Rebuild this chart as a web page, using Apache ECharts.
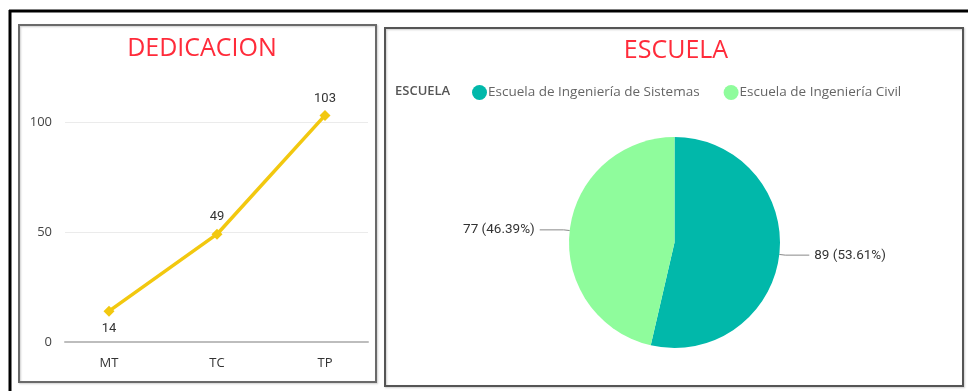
<!DOCTYPE html>
<html>
<head>
<meta charset="utf-8">
<title>DEDICACION / ESCUELA</title>
<script src="https://cdn.jsdelivr.net/npm/echarts@6/dist/echarts.min.js"></script>
<style>
  html, body { margin: 0; padding: 0; background: #ffffff; }
  #chart { width: 968px; height: 391px; }
</style>
</head>
<body>
<div id="chart"></div>
<script>
// Dedication types and headcount per type
const dedicacionCategorias = ['MT', 'TC', 'TP'];
const dedicacionValores = [14, 49, 103];
const dedicacionTicks = [0, 50, 100];

// Schools and student count per school
const escuelaNombres = ['Escuela de Ingeniería de Sistemas', 'Escuela de Ingeniería Civil'];
const escuelaValores = [89, 77];

const FONT = '"Open Sans", "Noto Sans", sans-serif';
const LABEL_FONT = 'Roboto, "Noto Sans", sans-serif';
const RED = '#ff2b3a';

const chart = echarts.init(document.getElementById('chart'), null, { renderer: 'canvas' });

// The lowest value gets its label underneath, the others above
const lineData = dedicacionValores.map((v, i) =>
  i === 0 ? { value: v, label: { position: 'bottom', distance: 6 } } : v
);

const option = {
  backgroundColor: '#ffffff',
  animation: false,
  title: [
    {
      text: 'DEDICACION', left: 197, top: 31, textAlign: 'center',
      textStyle: { color: RED, fontSize: 25, fontWeight: 'normal', fontFamily: FONT }
    },
    {
      text: 'ESCUELA', left: 671, top: 33, textAlign: 'center',
      textStyle: { color: RED, fontSize: 25, fontWeight: 'normal', fontFamily: FONT }
    },
    {
      text: 'ESCUELA', left: 390, top: 80,
      textStyle: { color: '#555555', fontSize: 13, fontWeight: 600, fontFamily: FONT }
    }
  ],
  legend: {
    data: escuelaNombres,
    left: 467, top: 80,
    icon: 'circle', itemWidth: 15, itemHeight: 15, itemGap: 24,
    textStyle: { color: '#666666', fontSize: 13.5, fontFamily: FONT, padding: [0, 0, 0, -4] }
  },
  grid: [
    // axis frame: gridlines and baseline
    { left: 65, right: 600, top: 122, bottom: 49 },
    // category placement for the line
    { left: 55, right: 589, top: 122, bottom: 49 }
  ],
  xAxis: [
    {
      gridIndex: 0, type: 'category', data: dedicacionCategorias,
      axisLine: { show: true, lineStyle: { color: '#bdbdbd', width: 2 } },
      axisTick: { show: false }, axisLabel: { show: false }
    },
    {
      gridIndex: 1, type: 'category', data: dedicacionCategorias,
      axisLine: { show: false }, axisTick: { show: false },
      axisLabel: { color: '#333333', fontSize: 13, fontFamily: FONT, margin: 15 }
    }
  ],
  yAxis: [
    {
      gridIndex: 0, type: 'value',
      min: dedicacionTicks[0], max: dedicacionTicks[dedicacionTicks.length - 1], interval: 50,
      axisLine: { show: false }, axisTick: { show: false },
      axisLabel: { color: '#444444', fontSize: 13, fontFamily: FONT, margin: 13 },
      splitLine: { lineStyle: { color: '#ebebeb', width: 1 } }
    },
    {
      gridIndex: 1, type: 'value',
      min: dedicacionTicks[0], max: dedicacionTicks[dedicacionTicks.length - 1],
      show: false, splitLine: { show: false }
    }
  ],
  series: [
    {
      name: 'DEDICACION', type: 'line', xAxisIndex: 1, yAxisIndex: 1,
      data: lineData, clip: false,
      symbol: 'diamond', symbolSize: 11,
      lineStyle: { color: '#f2c80f', width: 3.5 },
      itemStyle: { color: '#f2c80f' },
      label: {
        show: true, position: 'top', distance: 5,
        color: '#333333', fontSize: 13, fontFamily: LABEL_FONT
      }
    },
    {
      name: 'ESCUELA', type: 'pie',
      center: [674.5, 242.5], radius: 105.5,
      startAngle: 90, clockwise: true,
      data: escuelaNombres.map((n, i) => ({ name: n, value: escuelaValores[i] })),
      color: ['#01b8aa', '#8ffc9c'],
      itemStyle: { borderWidth: 0 },
      label: {
        show: true, position: 'outside', formatter: '{c} ({d}%)',
        color: '#333333', fontSize: 13.5, fontFamily: LABEL_FONT
      },
      labelLine: { show: true, length: 6, length2: 24, lineStyle: { color: '#888888', width: 1 } }
    }
  ],
  graphic: [
    // outer frame
    { type: 'line', shape: { x1: 9, y1: 11, x2: 968, y2: 11 }, style: { stroke: '#000000', lineWidth: 3 } },
    { type: 'line', shape: { x1: 10, y1: 10, x2: 10, y2: 391 }, style: { stroke: '#000000', lineWidth: 3 } },
    // left panel border
    { type: 'rect', shape: { x: 19, y: 25, width: 357, height: 357 },
      style: { fill: 'none', stroke: '#6a6a6a', lineWidth: 2, shadowColor: 'rgba(0,0,0,0.2)', shadowBlur: 2, shadowOffsetX: 1, shadowOffsetY: 1 }, z: -1 },
    // right panel border
    { type: 'rect', shape: { x: 385, y: 28, width: 578, height: 358 },
      style: { fill: 'none', stroke: '#555555', lineWidth: 2, shadowColor: 'rgba(0,0,0,0.2)', shadowBlur: 2, shadowOffsetX: 1, shadowOffsetY: 1 }, z: -1 }
  ]
};

chart.setOption(option);
</script>
</body>
</html>
